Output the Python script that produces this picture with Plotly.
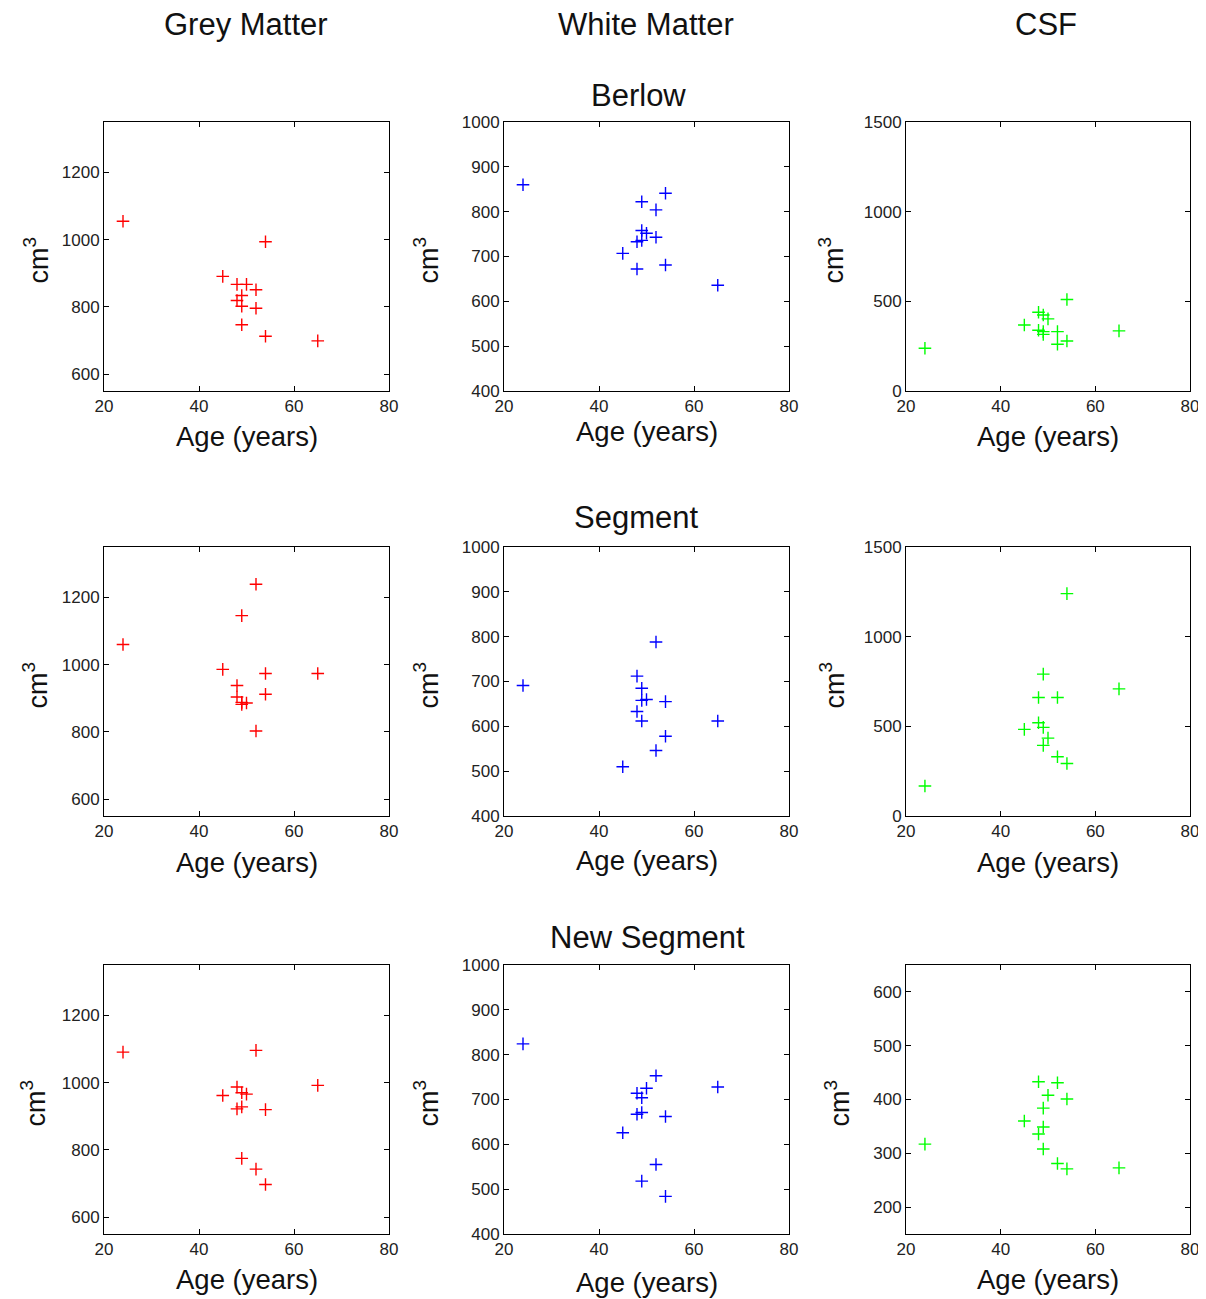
import plotly.graph_objects as go

W, H = 1206, 1299
OFF = 8  # page body margin of the browser
FW, FH = W - OFF, H - OFF

ages = [24, 45, 48, 48, 49, 49, 49, 50, 52, 52, 54, 54, 65]

gm_berlow = [1055, 891, 867, 819, 834, 802, 747, 867, 851, 796, 994, 713, 699]
wm_berlow = [860, 707, 733, 672, 822, 758, 736, 752, 804, 743, 841, 681, 636]
csf_berlow = [238, 368, 439, 339, 424, 331, 316, 402, 331, 261, 510, 279, 335]

gm_segment = [1060, 986, 938, 904, 1146, 888, 882, 886, 1239, 803, 974, 912, 974]
wm_segment = [691, 510, 712, 633, 685, 658, 612, 660, 788, 546, 655, 578, 612]
csf_segment = [167, 483, 661, 520, 791, 494, 394, 434, 661, 330, 1240, 293, 709]

gm_newseg = [1091, 962, 987, 922, 970, 928, 775, 966, 1096, 743, 920, 697, 992]
wm_newseg = [824, 626, 714, 667, 704, 671, 518, 725, 753, 555, 662, 484, 728]
csf_newseg = [317, 360, 433, 336, 384, 349, 308, 408, 431, 281, 401, 271, 273]

col_titles = ["Grey Matter", "White Matter", "CSF"]
row_titles = ["Berlow", "Segment", "New Segment"]
x_title = "Age (years)"
y_title = "cm<sup>3</sup>"

x_ticks = [20, 40, 60, 80]
y_ticks_gm = [600, 800, 1000, 1200]
y_ticks_wm = [400, 500, 600, 700, 800, 900, 1000]
y_ticks_csf = [0, 500, 1000, 1500]
y_ticks_csf_new = [200, 300, 400, 500, 600]

data_grid = [
    [gm_berlow, wm_berlow, csf_berlow],
    [gm_segment, wm_segment, csf_segment],
    [gm_newseg, wm_newseg, csf_newseg],
]
colors = ["#ff0000", "#0000ff", "#00ff00"]
y_ranges = [
    [[550, 1350], [400, 1000], [0, 1500]],
    [[550, 1350], [400, 1000], [0, 1500]],
    [[550, 1350], [400, 1000], [150, 650]],
]
y_tickvals = [
    [y_ticks_gm, y_ticks_wm, y_ticks_csf],
    [y_ticks_gm, y_ticks_wm, y_ticks_csf],
    [y_ticks_gm, y_ticks_wm, y_ticks_csf_new],
]

# pixel layout (page pixels)
col_px = [(104, 389), (504, 789), (906, 1190)]
row_px = [(122, 391), (547, 816), (965, 1234)]
col_title_pos = [(246, 24), (646, 24), (1046, 24)]
row_title_pos = [(638, 96), (636, 517), (647, 938)]
xlab_y = [[437, 431, 437], [862, 861, 862], [1279, 1282, 1279]]
ylab_x = [[36, 426, 831], [35, 426, 832], [33, 426, 837]]


def px(x):
    return (x - OFF) / FW


def py(y):
    return 1 - (y - OFF) / FH


FONT = "Liberation Sans, Arial, sans-serif"

fig = go.Figure()
annotations = []
layout = {}

for r in range(3):
    for c in range(3):
        k = r * 3 + c + 1
        xa = "x" if k == 1 else f"x{k}"
        ya = "y" if k == 1 else f"y{k}"
        fig.add_trace(go.Scatter(
            x=ages, y=data_grid[r][c], mode="markers",
            marker=dict(symbol="cross-thin-open", size=9, color=colors[c],
                        line=dict(color=colors[c], width=1.4)),
            xaxis=xa, yaxis=ya, showlegend=False, hoverinfo="x+y"))
        x0, x1 = col_px[c]
        y0, y1 = row_px[r]
        common = dict(showline=True, linecolor="black", linewidth=1, mirror="ticks",
                      ticks="inside", ticklen=5, tickcolor="black", tickwidth=1,
                      showgrid=False, zeroline=False, automargin=False,
                      tickfont=dict(family=FONT, size=17, color="#222"))
        layout["xaxis" if k == 1 else f"xaxis{k}"] = dict(
            domain=[px(x0), px(x1)], range=[20, 80], tickvals=x_ticks,
            anchor=ya, **common)
        layout["yaxis" if k == 1 else f"yaxis{k}"] = dict(
            domain=[py(y1), py(y0)], range=y_ranges[r][c],
            tickvals=y_tickvals[r][c], anchor=xa, **common)
        annotations.append(dict(
            text=x_title, x=px((x0 + x1) / 2), y=py(xlab_y[r][c]),
            xref="paper", yref="paper", showarrow=False,
            xanchor="center", yanchor="middle",
            font=dict(family=FONT, size=27.5, color="#111")))
        annotations.append(dict(
            text=y_title, x=px(ylab_x[r][c]), y=py((y0 + y1) / 2 + 4),
            xref="paper", yref="paper", showarrow=False, textangle=-90,
            xanchor="center", yanchor="middle",
            font=dict(family=FONT, size=27, color="#111")))

for i in range(3):
    x, y = col_title_pos[i]
    annotations.append(dict(text=col_titles[i], x=px(x), y=py(y),
                            xref="paper", yref="paper", showarrow=False,
                            xanchor="center", yanchor="middle",
                            font=dict(family=FONT, size=31, color="#111")))
    x, y = row_title_pos[i]
    annotations.append(dict(text=row_titles[i], x=px(x), y=py(y),
                            xref="paper", yref="paper", showarrow=False,
                            xanchor="center", yanchor="middle",
                            font=dict(family=FONT, size=31, color="#111")))

fig.update_layout(width=FW, height=FH,
                  margin=dict(l=0, r=0, t=0, b=0, pad=0, autoexpand=False),
                  paper_bgcolor="white", plot_bgcolor="white",
                  annotations=annotations, **layout)
fig.write_html("out.html")
